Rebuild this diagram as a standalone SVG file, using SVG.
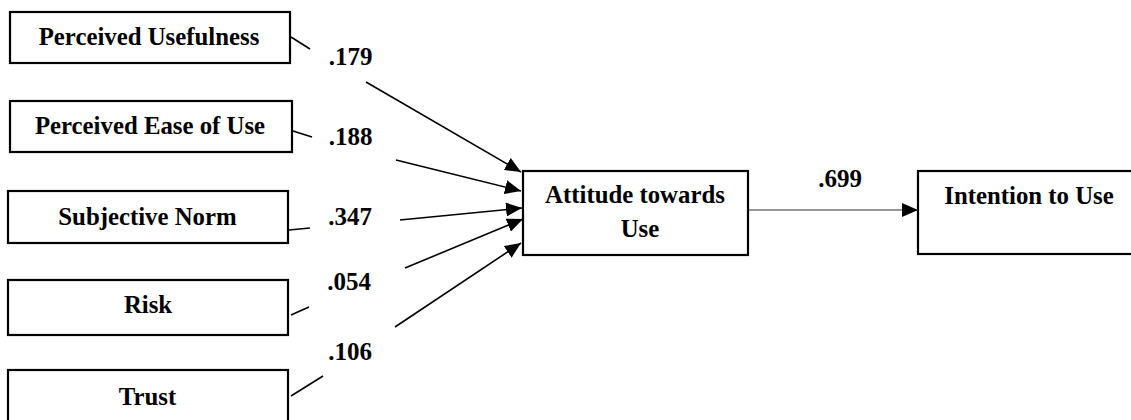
<svg xmlns="http://www.w3.org/2000/svg" width="1131" height="420" viewBox="0 0 1131 420">
<style>
.box{fill:#fff;stroke:#000;stroke-width:2.2}
.t{font-family:"Liberation Serif","Times New Roman",serif;font-weight:bold;font-size:24.8px;fill:#000;text-anchor:middle}
.lbl{font-family:"Liberation Serif","Times New Roman",serif;font-weight:bold;font-size:25px;fill:#000;text-anchor:middle}
.c{stroke:#000;stroke-width:1.6;fill:none}
</style>
<defs>
<marker id="ah" markerUnits="userSpaceOnUse" markerWidth="16" markerHeight="14" refX="16" refY="7" orient="auto">
<path d="M0,0 L16,7 L0,14 z" fill="#000"/>
</marker>
</defs>
<g id="n-pu">
<rect class="box" x="10" y="12" width="280" height="51"/>
<text class="t" x="149" y="45">Perceived Usefulness</text>
</g>
<g id="n-peou">
<rect class="box" x="10" y="101" width="282" height="51"/>
<text class="t" x="150" y="134">Perceived Ease of Use</text>
</g>
<g id="n-sn">
<rect class="box" x="8" y="191" width="280" height="52"/>
<text class="t" x="147.5" y="225">Subjective Norm</text>
</g>
<g id="n-risk">
<rect class="box" x="8" y="280" width="280" height="55"/>
<text class="t" x="148" y="313">Risk</text>
</g>
<g id="n-trust">
<rect class="box" x="8" y="370" width="280" height="60"/>
<text class="t" x="147.5" y="405">Trust</text>
</g>
<g id="n-att">
<rect class="box" x="523" y="171" width="225" height="84"/>
<text class="t" x="635" y="203">Attitude towards</text>
<text class="t" x="640" y="237">Use</text>
</g>
<g id="n-int">
<rect class="box" x="918" y="171" width="230" height="83"/>
<text class="t" x="1029" y="204">Intention to Use</text>
</g>
<g id="connectors">
<line class="c" x1="291" y1="37" x2="310" y2="49"/>
<line class="c" x1="366" y1="82" x2="521" y2="172" marker-end="url(#ah)"/>
<line class="c" x1="293" y1="131" x2="312" y2="137"/>
<line class="c" x1="396" y1="160" x2="521" y2="191" marker-end="url(#ah)"/>
<line class="c" x1="289" y1="230" x2="310" y2="228"/>
<line class="c" x1="400" y1="220" x2="522" y2="208" marker-end="url(#ah)"/>
<line class="c" x1="291" y1="315" x2="309" y2="307"/>
<line class="c" x1="405" y1="268" x2="523" y2="219" marker-end="url(#ah)"/>
<line class="c" x1="291" y1="396" x2="323" y2="376"/>
<line class="c" x1="395" y1="327" x2="521" y2="243" marker-end="url(#ah)"/>
<line x1="749" y1="210" x2="918" y2="210" stroke="#333" stroke-width="1.2" marker-end="url(#ah)"/>
<text class="lbl" x="350.5" y="65">.179</text>
<text class="lbl" x="350.5" y="145">.188</text>
<text class="lbl" x="350" y="225">.347</text>
<text class="lbl" x="349" y="290">.054</text>
<text class="lbl" x="350" y="360">.106</text>
<text class="lbl" x="840" y="187">.699</text>
</g>
</svg>
